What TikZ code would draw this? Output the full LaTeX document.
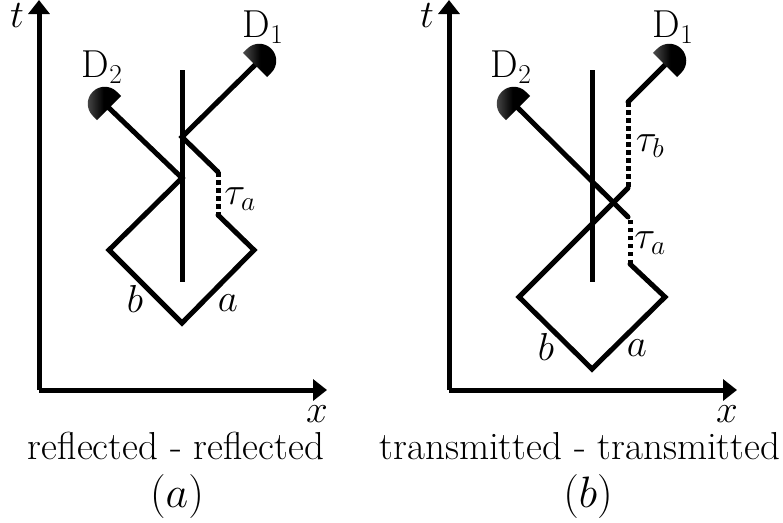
\RequirePackage{fix-cm}
\documentclass[tikz,border=0pt]{standalone}
\usepackage{amsmath, amssymb}
\usetikzlibrary{arrows.meta}

\begin{document}
\begin{tikzpicture}[x=1pt, y=-1pt,
  beam/.style={line width=5pt, line cap=round, line join=miter},
  delay/.style={line width=5pt, dash pattern=on 4.5pt off 3.5pt},
  axis/.style={line width=5pt, -{Triangle[length=14pt, width=21pt]}},
  detector/.pic={\shade[left color=black!70, right color=black, middle color=black]
    (-17,0) -- (17,0) -- (17,-6) arc (0:-180:17) -- cycle;},
  lbl/.style={font=\fontsize{39}{46}\selectfont, inner sep=0pt},
  sublbl/.style={font=\fontsize{44}{52}\selectfont, inner sep=0pt}]

  \useasboundingbox (0,0) rectangle (783,522);

  % Panel a: axes
  \coordinate (orgA) at (39,390);
  \coordinate (tA) at (39,0);
  \coordinate (xA) at (327,390);
  \draw[axis] (orgA) -- (tA);
  \draw[axis] (orgA) -- (xA);
  \node[lbl] (tlabelA) at (17,16) {$t$};
  \node[lbl] (xlabelA) at (317,414) {$x$};

  % Panel a: splitter
  \coordinate (bsTopA) at (182,70);
  \coordinate (bsBotA) at (182,282);
  \draw[beam, line cap=butt] (bsTopA) -- (bsBotA);

  % Panel a: detectors
  \coordinate (det1A) at (255,65);
  \coordinate (det2A) at (109,108);
  \node[lbl] (D1A) at (263,27) {D$_1$};
  \node[lbl] (D2A) at (102,67) {D$_2$};

  % Panel a: beams
  \coordinate (hitUpA) at (182,137);
  \coordinate (gapUpA) at (218,172);
  \coordinate (gapLowA) at (218,215);
  \coordinate (rightA) at (254,250);
  \coordinate (botA) at (182,323);
  \coordinate (leftA) at (109,250);
  \coordinate (hitLowA) at (182,178);
  \draw[beam] (det1A) -- (hitUpA) -- (gapUpA);
  \draw[delay] (gapUpA) -- (gapLowA);
  \draw[beam] (gapLowA) -- (rightA) -- (botA) -- (leftA) -- (hitLowA) -- (det2A);
  \pic[rotate=-45] at (det1A) {detector};
  \pic[rotate=45] at (det2A) {detector};
  \node[lbl] (tauA) at (240,199) {$\tau_a$};
  \node[lbl] (aA) at (228,303) {$a$};
  \node[lbl] (bA) at (135,299) {$b$};
  \node[lbl] (capA) at (176,446) {reflected - reflected};
  \node[sublbl] (subA) at (177,496) {$(a)$};

  % Panel b: axes
  \coordinate (orgB) at (449,390);
  \coordinate (tB) at (449,0);
  \coordinate (xB) at (737,390);
  \draw[axis] (orgB) -- (tB);
  \draw[axis] (orgB) -- (xB);
  \node[lbl] (tlabelB) at (427,16) {$t$};
  \node[lbl] (xlabelB) at (727,414) {$x$};

  % Panel b: splitter
  \coordinate (bsTopB) at (592,70);
  \coordinate (bsBotB) at (592,282);
  \draw[beam, line cap=butt] (bsTopB) -- (bsBotB);

  % Panel b: detectors
  \coordinate (det1B) at (665,65);
  \coordinate (det2B) at (518,108);
  \node[lbl] (D1B) at (673,27) {D$_1$};
  \node[lbl] (D2B) at (511,67) {D$_2$};

  % Panel b: beams
  \coordinate (gapTopB) at (628,102);
  \coordinate (gapMidB) at (628,188);
  \coordinate (crossB) at (628,217);
  \coordinate (gapUpB) at (630,218);
  \coordinate (gapLowB) at (630,264);
  \coordinate (rightB) at (665,297);
  \coordinate (botB) at (592,369);
  \coordinate (leftB) at (519,297);
  \draw[beam] (det1B) -- (gapTopB);
  \draw[delay] (gapTopB) -- (gapMidB);
  \draw[beam] (gapMidB) -- (leftB) -- (botB) -- (rightB) -- (gapLowB);
  \draw[delay] (gapLowB) -- (gapUpB);
  \draw[beam] (crossB) -- (det2B);
  \pic[rotate=-45] at (det1B) {detector};
  \pic[rotate=45] at (det2B) {detector};
  \node[lbl] (taubB) at (650,146) {$\tau_b$};
  \node[lbl] (tauaB) at (650,243) {$\tau_a$};
  \node[lbl] (aB) at (637,348) {$a$};
  \node[lbl] (bB) at (546,347) {$b$};
  \node[lbl] (capB) at (580,446) {transmitted - transmitted};
  \node[sublbl] (subB) at (588,496) {$(b)$};
\end{tikzpicture}
\end{document}
